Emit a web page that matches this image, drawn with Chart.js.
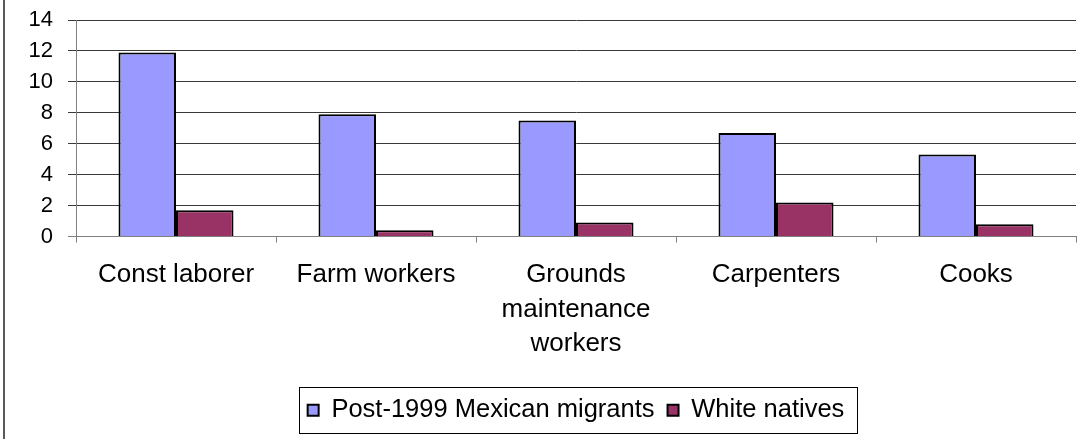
<!DOCTYPE html>
<html>
<head>
<meta charset="utf-8">
<script src="https://cdn.jsdelivr.net/npm/chart.js@4"></script>
<style>
  html, body { margin: 0; padding: 0; background: #fff; }
  #wrap { position: relative; width: 1081px; height: 439px; }
</style>
</head>
<body>
<div id="wrap"><canvas id="chart" width="1081" height="439"></canvas></div>
<script>
// Occupations (multi-line labels as in the original)
const categories = [
    'Const laborer',
    'Farm workers',
    ['Grounds', 'maintenance', 'workers'],
    'Carpenters',
    'Cooks'
];
const seriesNames = ['Post-1999 Mexican migrants', 'White natives'];
const mexicanMigrants = [11.9, 7.9, 7.5, 6.7, 5.3];
const whiteNatives = [1.7, 0.4, 0.9, 2.2, 0.8];
const yTicks = [0, 2, 4, 6, 8, 10, 12, 14];

const FONT = '"Liberation Sans", Arial, sans-serif';

// left frame line + box around the legend
const framePlugin = {
    id: 'frame',
    beforeDraw(chart) {
        const ctx = chart.ctx;
        ctx.save();
        ctx.fillStyle = '#fff';
        ctx.fillRect(0, 0, chart.width, chart.height);
        ctx.strokeStyle = '#222';
        ctx.lineWidth = 1.5;
        ctx.beginPath();
        ctx.moveTo(4, 0);
        ctx.lineTo(4, chart.height);
        ctx.stroke();
        ctx.restore();
    },
    afterDraw(chart) {
        const lg = chart.legend;
        if (!lg || !lg.legendHitBoxes.length) return;
        const hb = lg.legendHitBoxes;
        const first = hb[0], last = hb[hb.length - 1];
        const left = first.left - 9;
        const right = last.left + last.width + 12;
        const cy = first.top + first.height / 2;
        const ctx = chart.ctx;
        ctx.save();
        ctx.strokeStyle = '#000';
        ctx.lineWidth = 1;
        ctx.strokeRect(Math.round(left) + 0.5, Math.round(cy - 23) + 0.5, Math.round(right - left), 46);
        ctx.restore();
    }
};

const data = {
    labels: categories,
    datasets: [
        {
            label: seriesNames[0],
            data: mexicanMigrants,
            backgroundColor: '#9999FF',
            borderColor: '#000',
            borderWidth: 2,
            categoryPercentage: 0.575,
            barPercentage: 1
        },
        {
            label: seriesNames[1],
            data: whiteNatives,
            backgroundColor: '#993366',
            borderColor: '#000',
            borderWidth: 2,
            categoryPercentage: 0.575,
            barPercentage: 1
        }
    ]
};

const config = {
    type: 'bar',
    data: data,
    plugins: [framePlugin],
    options: {
        responsive: false,
        animation: false,
        layout: {
            padding: { top: 20, right: 5, left: 0, bottom: 6 }
        },
        plugins: {
            tooltip: { enabled: false },
            legend: {
                position: 'bottom',
                fullSize: false,
                labels: {
                    color: '#000',
                    boxWidth: 11,
                    boxHeight: 11,
                    padding: 13,
                    font: { family: FONT, size: 25.5 }
                }
            }
        },
        scales: {
            x: {
                grid: {
                    offset: true,
                    drawOnChartArea: false,
                    drawTicks: true,
                    tickLength: 6,
                    color: '#808080'
                },
                border: { display: true, color: '#808080', width: 1 },
                ticks: {
                    color: '#000',
                    padding: 15,
                    maxRotation: 0,
                    autoSkip: false,
                    font: { family: FONT, size: 26, lineHeight: 1.33 }
                },
                afterFit(scale) { scale.height = 148; }
            },
            y: {
                min: 0,
                max: 14,
                afterBuildTicks(scale) {
                    scale.ticks = yTicks.map(v => ({ value: v }));
                },
                grid: {
                    color: ctx => (ctx.tick && ctx.tick.value === 0) ? '#808080' : '#3a3a3a',
                    tickLength: 8,
                    lineWidth: 1
                },
                border: { display: true, color: '#808080', width: 1 },
                ticks: {
                    color: '#000',
                    padding: 15,
                    font: { family: FONT, size: 22 }
                },
                afterFit(scale) {
                    scale.width = 76;
                    scale.paddingTop = 0;
                    scale.paddingBottom = 0;
                }
            }
        }
    }
};

new Chart(document.getElementById('chart').getContext('2d'), config);
</script>
</body>
</html>
